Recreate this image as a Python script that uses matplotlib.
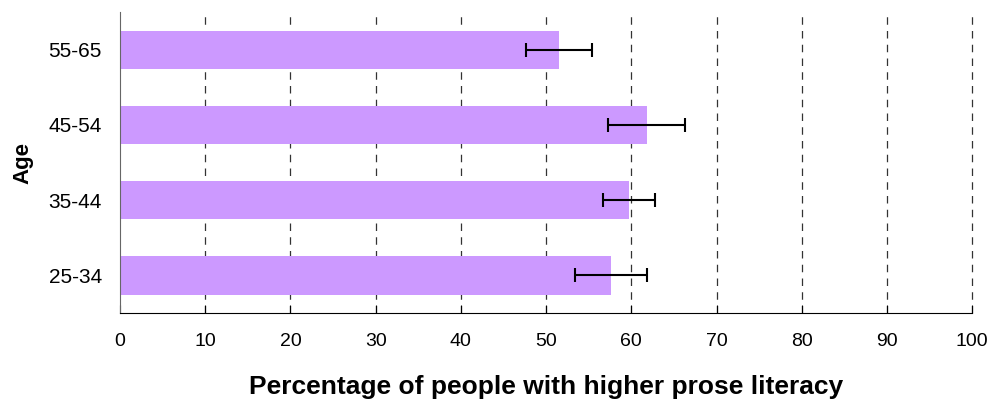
import matplotlib
matplotlib.use("Agg")
import matplotlib.pyplot as plt

# data
ages = ["25-34", "35-44", "45-54", "55-65"]
pct = [57.6, 59.7, 61.8, 51.5]
err = [4.2, 3.05, 4.5, 3.9]
xticks = [0, 10, 20, 30, 40, 50, 60, 70, 80, 90, 100]

plt.rcParams["font.family"] = ["Liberation Sans", "DejaVu Sans"]

fig = plt.figure(figsize=(9.92, 4.05), dpi=100)
ax = fig.add_axes([0.121, 0.227, 0.859, 0.743])

pos = list(range(len(ages)))
ax.barh(pos, pct, height=0.51, color="#CC99FF", zorder=2,
        xerr=err, error_kw=dict(ecolor="black", elinewidth=1.5,
                                capsize=5, capthick=1.5, zorder=3))

ax.set_xlim(0, 100)
ax.set_ylim(-0.5, 3.5)
ax.set_xticks(xticks)
ax.set_yticks(pos)
ax.set_yticklabels(ages)

for x in xticks[1:]:
    ax.axvline(x, color="#333333", lw=0.9, ls=(0, (6, 5)), zorder=1,
               clip_on=False)

for s in ("top", "right"):
    ax.spines[s].set_visible(False)
ax.spines["left"].set_color("#666666")
ax.spines["bottom"].set_color("black")

ax.tick_params(axis="x", direction="in", length=6, labelsize=14, pad=14)
ax.tick_params(axis="y", length=0, labelsize=15, pad=13)

ax.set_xlabel("Percentage of people with higher prose literacy",
              fontsize=19, fontweight="bold", labelpad=18)
ax.set_ylabel("Age", fontsize=16, fontweight="bold")
ax.yaxis.set_label_coords(-0.102, 0.5)

fig.savefig("out.png", dpi=100)
